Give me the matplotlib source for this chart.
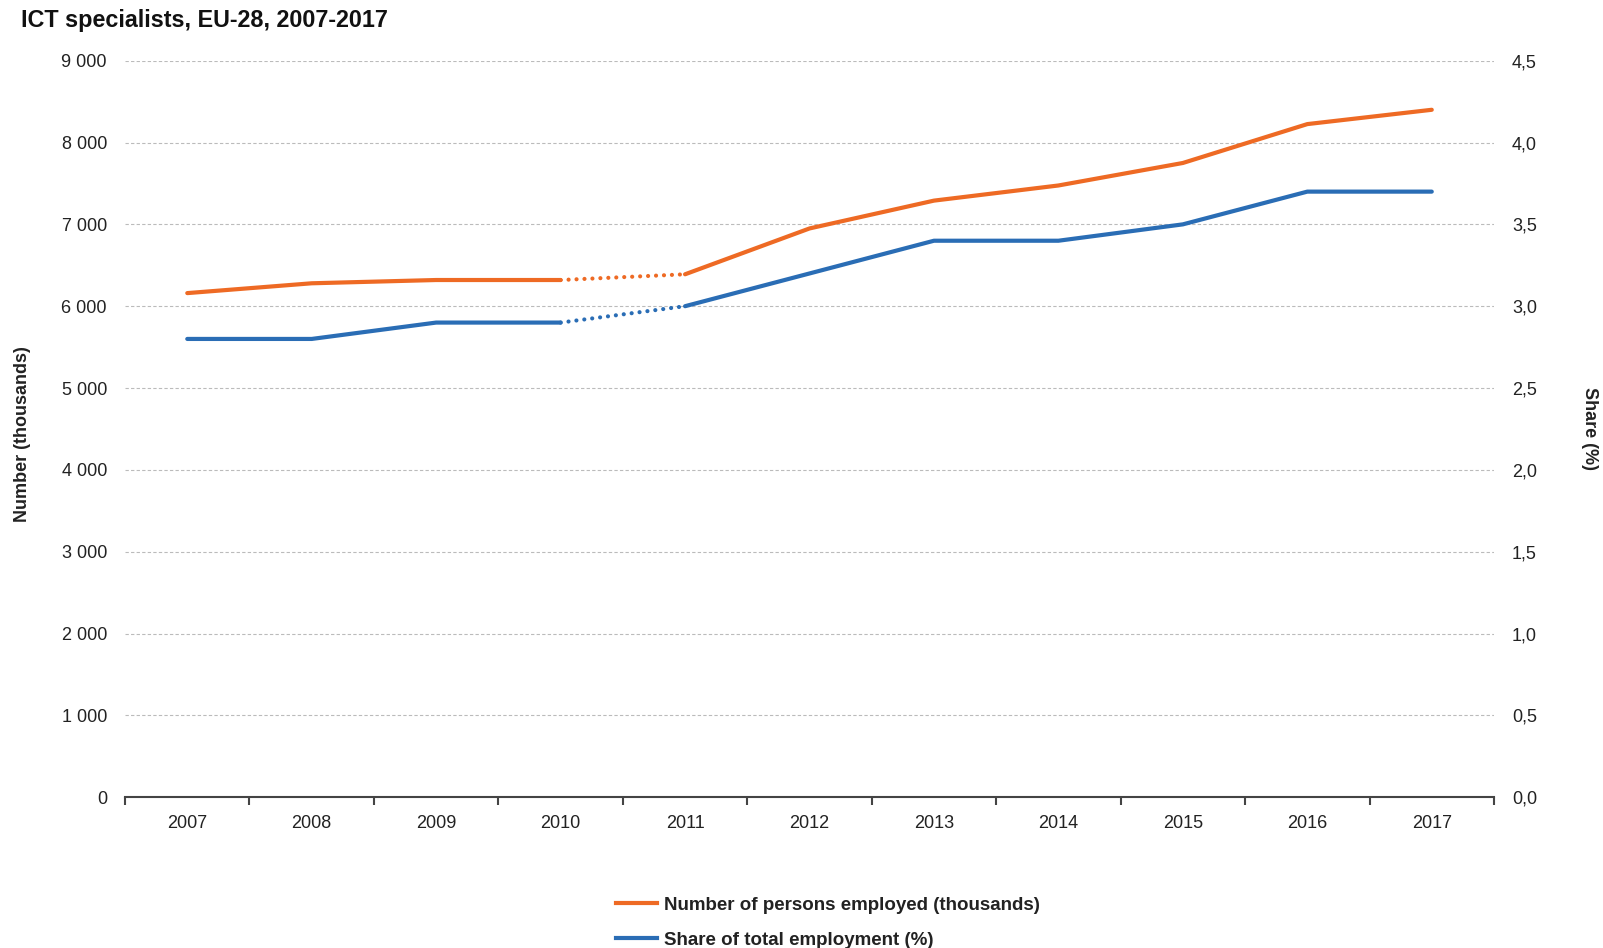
import numpy as np
import matplotlib
matplotlib.use('Agg')
import matplotlib.pyplot as plt
from matplotlib.ticker import FuncFormatter

plt.rcParams['font.family'] = ['Liberation Sans', 'DejaVu Sans']

years = ['2007', '2008', '2009', '2010', '2011', '2012', '2013', '2014', '2015', '2016', '2017']
employed = [6160, 6280, 6320, 6320, 6390, 6950, 7290, 7475, 7750, 8225, 8400]
share = [2.8, 2.8, 2.9, 2.9, 3.0, 3.2, 3.4, 3.4, 3.5, 3.7, 3.7]
break_idx = 3  # break in series between 2010 and 2011

orange = '#EE6A24'
blue = '#2A6DB5'
txt = '#222222'

x = np.arange(len(years))

fig = plt.figure(figsize=(16.03, 9.48), dpi=100)
ax = fig.add_axes([0.078, 0.159, 0.854, 0.777])
ax2 = ax.twinx()

for a in (ax, ax2):
    for s in ('top', 'left', 'right'):
        a.spines[s].set_visible(False)
ax2.spines['bottom'].set_visible(False)
ax.spines['bottom'].set_color('#444444')
ax.spines['bottom'].set_linewidth(1.5)

ax.set_ylim(0, 9000)
ax2.set_ylim(0, 4.5)
ax.set_xlim(-0.5, len(years) - 0.5)
ax.set_yticks(np.arange(0, 9001, 1000))
ax2.set_yticks(np.arange(0, 4.51, 0.5))
ax.yaxis.set_major_formatter(FuncFormatter(lambda v, p: f'{int(v):,}'.replace(',', ' ')))
ax2.yaxis.set_major_formatter(FuncFormatter(lambda v, p: f'{v:.1f}'.replace('.', ',')))
ax.tick_params(axis='y', length=0, pad=13, labelsize=13, labelcolor=txt)
ax2.tick_params(axis='y', length=0, pad=13, labelsize=13, labelcolor=txt)

ax.set_xticks(x)
ax.set_xticklabels(years)
ax.set_xticks(np.arange(-0.5, len(years), 1), minor=True)
ax.tick_params(axis='x', which='major', length=0, pad=13, labelsize=13, labelcolor=txt)
ax.tick_params(axis='x', which='minor', length=6, width=1.5, color='#444444', direction='out')

ax.grid(axis='y', color='#BBBBBB', linestyle=(0, (3, 2)), linewidth=0.8)
ax.set_axisbelow(True)

lw = 3
b = break_idx
ax.plot(x[:b + 1], employed[:b + 1], color=orange, lw=lw, solid_capstyle='round', zorder=3)
ax.plot(x[b + 1:], employed[b + 1:], color=orange, lw=lw, solid_capstyle='round', zorder=3)
ax.plot(x[b:b + 2], employed[b:b + 2], color=orange, lw=lw, linestyle=(0, (0.01, 1.9)),
        dash_capstyle='round', zorder=3)
ax2.plot(x[:b + 1], share[:b + 1], color=blue, lw=lw, solid_capstyle='round', zorder=3)
ax2.plot(x[b + 1:], share[b + 1:], color=blue, lw=lw, solid_capstyle='round', zorder=3)
ax2.plot(x[b:b + 2], share[b:b + 2], color=blue, lw=lw, linestyle=(0, (0.01, 1.9)),
         dash_capstyle='round', zorder=3)

ax.set_ylabel('Number (thousands)', fontsize=13, fontweight='bold', color=txt)
ax.yaxis.set_label_coords(-0.069, 0.493)
ax2.set_ylabel('Share (%)', fontsize=13, fontweight='bold', color=txt, rotation=-90, va='center')
ax2.yaxis.set_label_coords(1.07, 0.5)

fig.text(0.013, 0.991, 'ICT specialists, EU-28, 2007-2017', fontsize=16.8, fontweight='bold',
         color='#111111', va='top', ha='left')

h1, = ax.plot([], [], color=orange, lw=lw)
h2, = ax.plot([], [], color=blue, lw=lw)
leg = fig.legend([h1, h2], ['Number of persons employed (thousands)', 'Share of total employment (%)'],
                 loc='upper left', bbox_to_anchor=(0.384, 0.054), frameon=False,
                 fontsize=13.5, handlelength=2.2, handletextpad=0.4, labelspacing=0.95,
                 borderpad=0, borderaxespad=0)
for t in leg.get_texts():
    t.set_fontweight('bold')
    t.set_color(txt)

fig.savefig('out.png', dpi=100)
